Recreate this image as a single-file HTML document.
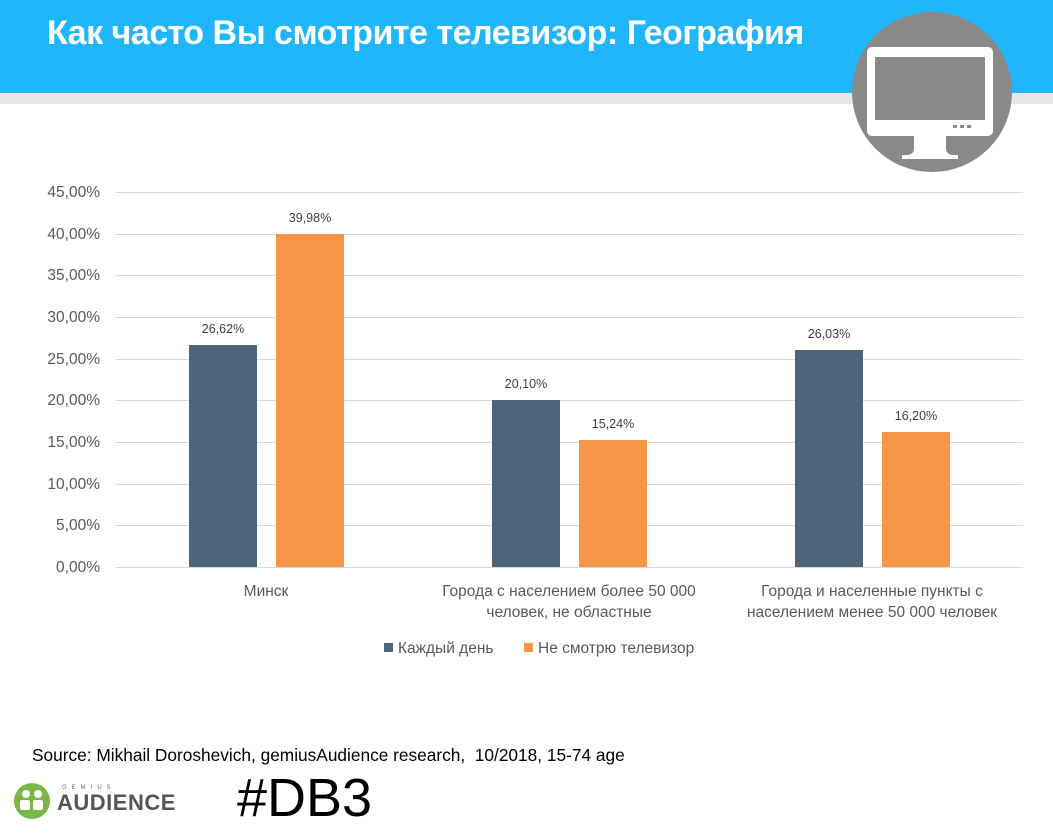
<!DOCTYPE html>
<html><head><meta charset="utf-8"><style>
body{margin:0;width:1053px;height:833px;background:#fff;position:relative;overflow:hidden;font-family:"Liberation Sans","DejaVu Sans",sans-serif}
.t{position:absolute;white-space:nowrap}
</style></head><body>
<div style="position:absolute;left:0;top:0;width:1053px;height:93px;background:#20b6fc"></div>
<div style="position:absolute;left:0;top:93px;width:1053px;height:11px;background:#e6e6e6"></div>
<div class="t" style="left:47px;top:14px;font-size:34px;font-weight:bold;color:#fff;letter-spacing:-0.5px">Как часто Вы смотрите телевизор: География</div>
<svg style="position:absolute;left:0;top:0" width="1053" height="833">
<ellipse cx="932" cy="92" rx="80" ry="80" fill="#898989"/>
<rect x="867" y="47" width="126" height="89" rx="5" fill="#fff"/>
<rect x="875" y="57" width="110" height="63" fill="#898989"/>
<rect x="953" y="125" width="4" height="3" fill="#898989"/><rect x="960" y="125" width="4" height="3" fill="#898989"/><rect x="967" y="125" width="4" height="3" fill="#898989"/>
<path d="M914 136 h32 v12 q0 6 6 7 h6 v4 h-56 v-4 h6 q6 -1 6 -7z" fill="#fff"/>
<g stroke="#d9d9d9" stroke-width="1">
<line x1="115" x2="1023" y1="192.5" y2="192.5"/><line x1="115" x2="1023" y1="234.5" y2="234.5"/><line x1="115" x2="1023" y1="275.5" y2="275.5"/><line x1="115" x2="1023" y1="317.5" y2="317.5"/><line x1="115" x2="1023" y1="359.5" y2="359.5"/><line x1="115" x2="1023" y1="400.5" y2="400.5"/><line x1="115" x2="1023" y1="442.5" y2="442.5"/><line x1="115" x2="1023" y1="484.5" y2="484.5"/><line x1="115" x2="1023" y1="525.5" y2="525.5"/><line x1="115" x2="1023" y1="567.5" y2="567.5"/>
</g>
<g fill="#4c657b"><rect x="189" y="345" width="68" height="222"/><rect x="492" y="400" width="68" height="167"/><rect x="795" y="350" width="68" height="217"/><rect x="384" y="643" width="9" height="9"/></g>
<g fill="#f79646"><rect x="276" y="234" width="68" height="333"/><rect x="579" y="440" width="68" height="127"/><rect x="882" y="432" width="68" height="135"/><rect x="524" y="643" width="9" height="9"/></g>
<g font-size="12.5" fill="#404040" text-anchor="middle" font-family="Liberation Sans, sans-serif">
<text x="223" y="333">26,62%</text><text x="310" y="222">39,98%</text>
<text x="526" y="388">20,10%</text><text x="613" y="428">15,24%</text>
<text x="829" y="338">26,03%</text><text x="916" y="420">16,20%</text>
</g>
<g font-size="15.5" fill="#595959" text-anchor="end" font-family="Liberation Sans, sans-serif">
<text x="100" y="197">45,00%</text><text x="100" y="239">40,00%</text><text x="100" y="280">35,00%</text><text x="100" y="322">30,00%</text><text x="100" y="364">25,00%</text><text x="100" y="405">20,00%</text><text x="100" y="447">15,00%</text><text x="100" y="489">10,00%</text><text x="100" y="530">5,00%</text><text x="100" y="572">0,00%</text>
</g>
<g font-size="15.5" fill="#595959" text-anchor="middle" font-family="Liberation Sans, sans-serif">
<text x="266" y="596">Минск</text>
<text x="569" y="596">Города с населением более 50 000</text><text x="569" y="617">человек, не областные</text>
<text x="872" y="596">Города и населенные пункты с</text><text x="872" y="617">населением менее 50 000 человек</text>
</g>
<g font-size="15.5" fill="#595959" font-family="Liberation Sans, sans-serif">
<text x="398" y="653">Каждый день</text><text x="538" y="653">Не смотрю телевизор</text>
</g>
<circle cx="32" cy="801" r="18" fill="#7ab648"/>
<circle cx="26" cy="794" r="4" fill="#fff"/><circle cx="38" cy="794" r="4" fill="#fff"/>
<rect x="20" y="800" width="10" height="10" rx="2" fill="#fff"/><rect x="33" y="800" width="10" height="10" rx="2" fill="#fff"/>
</svg>
<div class="t" style="left:32px;top:745px;font-size:17.3px;color:#000">Source: Mikhail Doroshevich, gemiusAudience research,&nbsp; 10/2018, 15-74 age</div>
<div class="t" style="left:62px;top:785px;font-size:6px;letter-spacing:5px;color:#666">GEMIUS</div>
<div class="t" style="left:57px;top:790px;font-size:22px;font-weight:bold;color:#555;letter-spacing:0.5px">AUDIENCE</div>
<div class="t" style="left:237px;top:767px;font-size:54px;color:#000">#DB3</div>
</body></html>
